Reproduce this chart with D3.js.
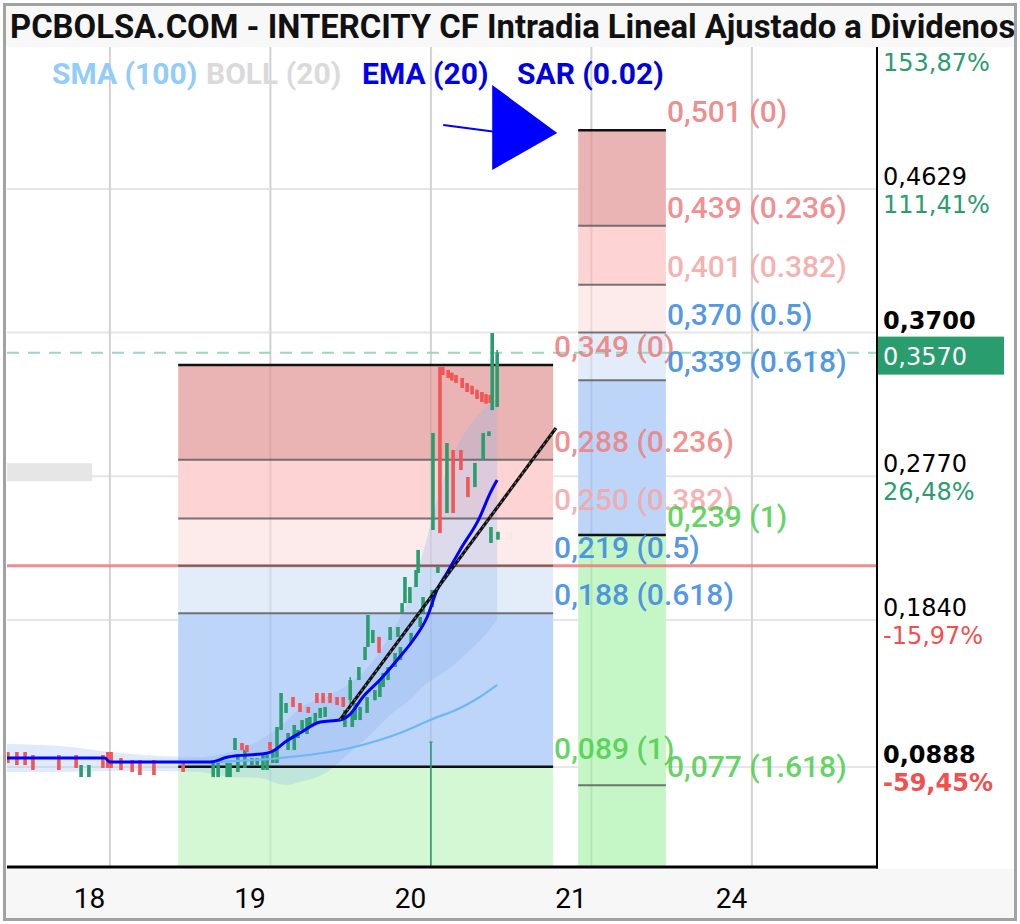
<!DOCTYPE html>
<html><head><meta charset="utf-8">
<script src="https://cdn.jsdelivr.net/npm/d3@7"></script>
<style>body{margin:0;background:#fff}svg{display:block}</style>
</head><body>
<svg id="c" width="1020" height="924"></svg>
<script>
// ---------- DATA ----------
const title = "PCBOLSA.COM - INTERCITY CF Intradia Lineal Ajustado a Dividenos";
const legendNames = ["SMA (100)", "BOLL (20)", "EMA (20)", "SAR (0.02)"];
const legendColors = ["#92ccf7", "#dadada", "#0000ee", "#0000dd"];
const dayTicks = [25, 64, 103, 142, 181];
const dayLabels = ["18", "19", "20", "21", "24"];
const priceTicks = [0.4629, 0.3700, 0.2770, 0.1840, 0.0888];
const priceTickLabels = ["0,4629", "0,3700", "0,2770", "0,1840", "0,0888"];
const priceTickBold = [false, true, false, false, true];
const pctLabels = ["111,41%", "", "26,48%", "-15,97%", "-59,45%"];
const topPctLabel = "153,87%";
const refPrice = 0.219;
const lastPrice = 0.357;
const lastPriceLabel = "0,3570";

// candles: [time slot, open, high, low, close]
const candles = [
[0.2,.0985,.0985,.0914,.0914],[2.4,.0985,.0985,.0901,.0901],[4.4,.0985,.0985,.0901,.0901],
[6.3,.0966,.0966,.0869,.0869],[12.6,.0966,.0966,.0869,.0869],[16.8,.0966,.0966,.0882,.0882],
[18.0,.0823,.0901,.0823,.0901],[19.9,.0823,.0901,.0823,.0901],[23.3,.0966,.0966,.0882,.0882],
[24.5,.0985,.0985,.0882,.0882],[25.3,.0985,.0985,.0882,.0882],[27.7,.0946,.0946,.0869,.0869],
[30.4,.0933,.0933,.0856,.0856],[32.3,.0933,.0933,.0836,.0836],[35.7,.0933,.0933,.0836,.0836],
[42.8,.0920,.0920,.0856,.0856],[50.1,.0823,.0933,.0823,.0933],[51.3,.0823,.0933,.0823,.0933],
[53.5,.0823,.0914,.0823,.0914],[54.2,.0823,.0914,.0823,.0914],[55.4,.0998,.1076,.0998,.1076],
[56.1,.0856,.0966,.0856,.0966],[57.1,.1043,.1043,.0998,.0998],[57.8,.0882,.0998,.0882,.0998],
[58.3,.1030,.1030,.0985,.0985],[59.5,.0901,.0946,.0901,.0946],[60.8,.0901,.0946,.0901,.0946],
[62.2,.0869,.0966,.0869,.0966],[63.2,.0869,.0966,.0869,.0966],[63.9,.1050,.1050,.0998,.0998],
[64.6,.0914,.0985,.0914,.0985],[65.6,.0914,.1147,.0914,.1147],[66.6,.1128,.1367,.1128,.1367],
[67.8,.1238,.1302,.1238,.1302],[68.3,.0998,.1108,.0998,.1108],[69.5,.1341,.1341,.1277,.1277],
[69.8,.0998,.1160,.0998,.1160],[70.7,.1076,.1128,.1076,.1128],[71.2,.1302,.1302,.1244,.1244],
[71.7,.1128,.1192,.1128,.1192],[72.9,.1102,.1205,.1102,.1205],[73.2,.1277,.1277,.1238,.1238],
[73.6,.1147,.1212,.1147,.1212],[74.9,.1173,.1238,.1173,.1238],[75.3,.1367,.1367,.1302,.1302],
[76.1,.1205,.1270,.1205,.1270],[76.8,.1367,.1367,.1302,.1302],[77.3,.1212,.1277,.1212,.1277],
[78.5,.1367,.1367,.1302,.1302],[80.2,.1341,.1341,.1289,.1289],[81.7,.1341,.1341,.1277,.1277],
[82.1,.1147,.1257,.1147,.1257],[83.4,.1321,.1470,.1277,.1451],[83.9,.1147,.1238,.1147,.1238],
[84.6,.1192,.1302,.1192,.1302],[85.5,.1451,.1535,.1451,.1535],[85.8,.1192,.1277,.1192,.1277],
[87.0,.1581,.1665,.1581,.1665],[87.5,.1238,.1341,.1238,.1341],[87.7,.1665,.1872,.1665,.1872],
[88.9,.1691,.1775,.1691,.1775],[89.4,.1321,.1386,.1321,.1386],[90.4,.1730,.1730,.1626,.1626],
[90.6,.1341,.1451,.1341,.1451],[91.4,.1406,.1496,.1406,.1496],[92.6,.1451,.1535,.1451,.1535],
[93.1,.1710,.1794,.1710,.1794],[94.3,.1535,.1626,.1535,.1626],[95.0,.1730,.1794,.1730,.1794],
[95.6,.1581,.1665,.1581,.1665],[96.0,.1884,.1949,.1884,.1949],[96.7,.1949,.2118,.1949,.2118],
[97.9,.1949,.2053,.1949,.2053],[98.2,.1691,.1756,.1691,.1756],[99.4,.2053,.2163,.2053,.2163],
[99.9,.2144,.2293,.2144,.2293],[100.4,.1794,.1859,.1794,.1859],[101.1,.1884,.1988,.1884,.1988],
[103.0,.1050,.1052,.0100,.1052],[103.3,.1923,.2034,.1923,.2034],[103.5,.2422,.3050,.2422,.3050],
[104.7,.2144,.2183,.2144,.2183],[105.2,.3477,.3477,.2402,.2402],[105.9,.3477,.3477,.3425,.3425],
[106.9,.2532,.2985,.2532,.2985],[107.2,.3458,.3458,.3406,.3406],[108.1,.3440,.3440,.3390,.3390],
[108.4,.2940,.2940,.2532,.2532],[109.1,.3425,.3425,.3373,.3373],[110.3,.2940,.2940,.2810,.2810],
[110.6,.3406,.3406,.3341,.3341],[111.8,.3373,.3373,.3315,.3315],[112.0,.2765,.2765,.2635,.2635],
[113.0,.3355,.3355,.3300,.3300],[113.7,.2700,.2856,.2700,.2856],[114.2,.3330,.3330,.3270,.3270],
[115.4,.3315,.3315,.3250,.3250],[115.7,.2875,.3050,.2875,.3050],[116.4,.3300,.3300,.3240,.3240],
[117.1,.3030,.3060,.3030,.3060],[117.4,.3296,.3296,.3244,.3244],[117.6,.2338,.2441,.2338,.2441],
[117.9,.3198,.3697,.3198,.3697],[119.1,.3218,.3587,.3218,.3570],[119.3,.2360,.2410,.2360,.2410]
];

// indicators: [time slot, value]
const ema20 = [[0,.0946],[23.8,.0946],[25,.0920],[49.3,.0920],[53.7,.0953],[63.4,.0979],[65.1,.0998],
[67.6,.1050],[71.2,.1108],[76.1,.1179],[80.9,.1192],[83.4,.1231],[86.5,.1341],[90.6,.1451],
[94.8,.1581],[98.7,.1710],[102.1,.1859],[104.5,.2034],[106.9,.2144],[110.1,.2293],[114.9,.2506],
[117.4,.2661],[119.1,.2746]];
const sma100 = [[50,.0920],[66.3,.0946],[83.4,.1011],[95.5,.1108],[102.8,.1192],[110.1,.1270],
[114.9,.1341],[119.1,.1419]];
// bollinger: [time slot, upper, lower]
const boll20 = [[0,.1037,.0856],[12.9,.1024,.0856],[25,.0985,.0862],[37.2,.0959,.0862],[46.9,.0953,.0856],
[54.2,.0985,.0823],[61.5,.1063,.0817],[67.6,.1179,.0772],[71.2,.1270,.0791],[78.5,.1354,.0869],
[83.4,.1432,.0985],[88.2,.1548,.1095],[93.1,.1742,.1225],[97.9,.2001,.1322],[101.6,.2325,.1420],
[105.2,.2681,.1484],[108.9,.2940,.1555],[112.5,.3102,.1645],[116.2,.3212,.1742],[119.1,.3277,.1839]];

// Fibonacci retracements
const fibLevels = [0, 0.236, 0.382, 0.5, 0.618, 1, 1.618];
const fibA = {t0: 41.6, t1: 132.7, p0: 0.349, p1: 0.089, n: 6,
  labels: ["0,349 (0)", "0,288 (0.236)", "0,250 (0.382)", "0,219 (0.5)", "0,188 (0.618)", "0,089 (1)"]};
const fibB = {t0: 138.8, t1: 160.1, p0: 0.501, p1: 0.239, n: 7,
  labels: ["0,501 (0)", "0,439 (0.236)", "0,401 (0.382)", "0,370 (0.5)", "0,339 (0.618)", "0,239 (1)", "0,077 (1.618)"]};
const trendLine = [[80.9, 0.1192], [133.4, 0.3082]];
const arrowLine = [[106, 0.5043], [118.5, 0.5000]];
const arrowHead = [[117.9, 0.5302], [133.7, 0.4992], [117.9, 0.4752]];
const hiddenBox = [[0, 0.2854], [20.7, 0.2738]];

// ---------- STYLE ----------
const P = {l: 7, r: 877, t: 47, b: 867};
const zoneColA = ["#ebb4b4", "#fdd3d3", "#fdeaea", "#e2edf9", "#bdd5f8", "#d4f8d4"];
const zoneColB = ["#ebb4b4", "#fdd3d3", "#fdeaea", "#e2edf9", "#bdd5f8", "#c5f6c5", "#c5f6c5"];
const lblCol = ["#ec8080", "#ef8282", "#f4a8a8", "#3d8ae0", "#3d8ae0", "#4fd04f", "#4fd04f"];
const UP = "#2a9d6e", DN = "#f25555";

const x = d3.scaleLinear().domain([0, 211.4]).range([P.l, P.r]);
const y = d3.scaleLinear().domain([0.0241, 0.5548]).range([P.b, P.t]);
const svg = d3.select("#c");

svg.append("rect").attr("width", 1020).attr("height", 924).attr("fill", "#fff");
svg.append("rect").attr("x", 5).attr("y", 5).attr("width", 1010).attr("height", 42).attr("fill", "#f8f8f8");
svg.append("rect").attr("x", 5).attr("y", P.b + 2).attr("width", 1010).attr("height", 918 - P.b - 2).attr("fill", "#f7f7f7");

const defs = svg.append("defs");
defs.append("clipPath").attr("id", "pc").append("rect")
  .attr("x", P.l).attr("y", P.t).attr("width", P.r - P.l).attr("height", P.b - P.t);
defs.append("clipPath").attr("id", "tc").append("rect")
  .attr("x", 5).attr("y", 5).attr("width", 1010).attr("height", 42);
const g = svg.append("g").attr("clip-path", "url(#pc)");

// fib zones
function fibZones(f, cols) {
  const lv = fibLevels.slice(0, f.n).map(l => f.p0 - l * (f.p0 - f.p1));
  const bounds = lv.concat([y.invert(P.b)]);
  const zones = d3.range(bounds.length - 1).map(i => ({a: bounds[i], b: bounds[i + 1], c: cols[i]}));
  g.append("g").selectAll("rect").data(zones).join("rect")
    .attr("x", x(f.t0)).attr("width", x(f.t1) - x(f.t0))
    .attr("y", d => y(d.a)).attr("height", d => y(d.b) - y(d.a)).attr("fill", d => d.c);
  return lv;
}
// gridlines
g.append("g").selectAll("line").data(dayTicks).join("line")
  .attr("x1", d => x(d)).attr("x2", d => x(d)).attr("y1", P.t).attr("y2", P.b)
  .attr("stroke", "#e2e2e2").attr("stroke-width", 2);
g.append("g").selectAll("line").data(priceTicks).join("line")
  .attr("x1", P.l).attr("x2", P.r).attr("y1", d => y(d)).attr("y2", d => y(d))
  .attr("stroke", "#e6e6e6").attr("stroke-width", 2);
g.append("rect").attr("x", x(hiddenBox[0][0])).attr("y", y(hiddenBox[0][1]))
  .attr("width", x(hiddenBox[1][0]) - x(hiddenBox[0][0])).attr("height", y(hiddenBox[1][1]) - y(hiddenBox[0][1]))
  .attr("fill", "#e6e6e6");

const lvA = fibZones(fibA, zoneColA);
const lvB = fibZones(fibB, zoneColB);

g.append("g").selectAll("line").data(dayTicks).join("line")
  .attr("x1", d => x(d)).attr("x2", d => x(d)).attr("y1", P.t).attr("y2", P.b)
  .attr("stroke", "rgba(0,0,0,0.07)").attr("stroke-width", 2);

// bollinger band
g.append("path").datum(boll20)
  .attr("d", d3.area().x(d => x(d[0])).y0(d => y(d[2])).y1(d => y(d[1])).curve(d3.curveMonotoneX))
  .attr("fill", "rgba(140,180,238,0.28)");

// reference line & last price
g.append("line").attr("x1", P.l).attr("x2", P.r).attr("y1", y(refPrice)).attr("y2", y(refPrice))
  .attr("stroke", "#f07a7a").attr("stroke-width", 3).attr("opacity", 0.85);
g.append("line").attr("x1", P.l).attr("x2", P.r).attr("y1", y(lastPrice)).attr("y2", y(lastPrice))
  .attr("stroke", "#9fd6bd").attr("stroke-width", 2).attr("stroke-dasharray", "12,9");

// fib lines
function fibLines(f, lv) {
  g.append("g").selectAll("line").data(lv).join("line")
    .attr("x1", x(f.t0)).attr("x2", x(f.t1)).attr("y1", d => y(d)).attr("y2", d => y(d))
    .attr("stroke", (d, i) => (i === 0 || i === 5) ? "#111" : "#555")
    .attr("stroke-opacity", (d, i) => (i === 0 || i === 5) ? 1 : 0.8)
    .attr("stroke-width", (d, i) => (i === 0 || i === 5) ? 2.5 : 2);
}
fibLines(fibA, lvA);
fibLines(fibB, lvB);

// candles
const cg = g.append("g");
cg.selectAll("line").data(candles).join("line")
  .attr("x1", d => x(d[0])).attr("x2", d => x(d[0])).attr("y1", d => y(d[2])).attr("y2", d => y(d[3]))
  .attr("stroke", d => d[4] >= d[1] ? UP : DN).attr("stroke-width", 1.6);
cg.selectAll("rect").data(candles).join("rect")
  .attr("x", d => x(d[0]) - 1.8).attr("width", 3.6)
  .attr("y", d => y(Math.max(d[1], d[4]))).attr("height", d => Math.max(1, Math.abs(y(d[1]) - y(d[4]))))
  .attr("fill", d => d[4] >= d[1] ? UP : DN);

// indicators
const ln = d3.line().x(d => x(d[0])).y(d => y(d[1])).curve(d3.curveMonotoneX);
g.append("path").datum(sma100).attr("d", ln).attr("fill", "none").attr("stroke", "#6fb6f5").attr("stroke-width", 2.2);
g.append("path").datum(ema20).attr("d", ln).attr("fill", "none").attr("stroke", "#0000ff").attr("stroke-width", 3);

// trend line
const tl = d3.line().x(d => x(d[0])).y(d => y(d[1]));
g.append("path").datum(trendLine).attr("d", tl).attr("stroke", "#111").attr("stroke-width", 3.2).attr("fill", "none");
g.append("path").datum(trendLine).attr("d", tl).attr("stroke", "rgba(255,255,255,0.45)").attr("stroke-width", 1.2)
  .attr("stroke-dasharray", "2,4").attr("fill", "none");

// arrow annotation
g.append("path").datum(arrowLine).attr("d", tl).attr("stroke", "#0000ff").attr("stroke-width", 2).attr("fill", "none");
g.append("path").datum(arrowHead).attr("d", d3.line().x(d => x(d[0])).y(d => y(d[1])).curve(d3.curveLinearClosed))
  .attr("fill", "#0000ff");

// fib labels
function fibLabels(f, lv) {
  g.append("g").selectAll("text").data(lv).join("text")
    .attr("x", x(f.t1) + 1).attr("y", d => y(d) - 8)
    .attr("font-family", "Roboto").attr("font-weight", 500).attr("font-size", 30)
    .attr("fill", (d, i) => lblCol[i]).attr("fill-opacity", 0.9)
    .text((d, i) => f.labels[i]);
}
fibLabels(fibA, lvA);
fibLabels(fibB, lvB);

// axes lines
svg.append("line").attr("x1", P.r).attr("x2", P.r).attr("y1", P.t).attr("y2", P.b + 1.5).attr("stroke", "#000").attr("stroke-width", 2);
svg.append("line").attr("x1", P.l).attr("x2", P.r + 1).attr("y1", P.b).attr("y2", P.b).attr("stroke", "#000").attr("stroke-width", 3);

// right axis labels
const ra = svg.append("g").attr("font-family", "DejaVu Sans").attr("font-size", 24);
ra.selectAll("text.p").data(priceTicks).join("text").attr("class", "p")
  .attr("x", P.r + 6).attr("y", d => y(d) - 4)
  .attr("font-weight", (d, i) => priceTickBold[i] ? "bold" : "normal")
  .attr("fill", "#000").text((d, i) => priceTickLabels[i]);
ra.selectAll("text.q").data(priceTicks).join("text").attr("class", "q")
  .attr("x", P.r + 6).attr("y", d => y(d) + 24)
  .attr("font-weight", (d, i) => priceTickBold[i] ? "bold" : "normal")
  .attr("fill", (d, i) => d >= refPrice ? UP : "#f25050").text((d, i) => pctLabels[i]);
ra.append("text").attr("x", P.r + 6).attr("y", P.t + 24).attr("fill", UP).text(topPctLabel);
ra.append("rect").attr("x", P.r + 1).attr("y", y(lastPrice) - 16).attr("width", 126).attr("height", 38).attr("fill", UP);
ra.append("text").attr("x", P.r + 6).attr("y", y(lastPrice) + 12).attr("fill", "#fff").text(lastPriceLabel);

// bottom axis
const xa = d3.axisBottom(x).tickValues(dayTicks).tickFormat((d, i) => dayLabels[i]).tickSize(0);
const xg = svg.append("g").attr("transform", `translate(0,${P.b})`).call(xa);
xg.select(".domain").remove();
xg.selectAll("text").attr("font-family", "Roboto").attr("font-size", 28).attr("fill", "#000")
  .attr("dx", -21).attr("dy", 0).attr("y", 41);

// legend
const lgX = [52, 206, 362, 517];
svg.append("g").selectAll("text").data(legendNames).join("text")
  .attr("x", (d, i) => lgX[i]).attr("y", 84)
  .attr("font-family", "Roboto").attr("font-weight", "bold").attr("font-size", 30)
  .attr("fill", (d, i) => legendColors[i]).text(d => d);

// title
svg.append("g").attr("clip-path", "url(#tc)").append("text").attr("x", 10).attr("y", 38)
  .attr("font-family", "Roboto").attr("font-weight", "bold")
  .attr("font-size", 32.8).attr("fill", "#111").text(title);

// border
svg.append("rect").attr("x", 4.5).attr("y", 4.5).attr("width", 1011).attr("height", 915)
  .attr("fill", "none").attr("stroke", "#a2a2a2").attr("stroke-width", 3);
</script>
</body></html>
